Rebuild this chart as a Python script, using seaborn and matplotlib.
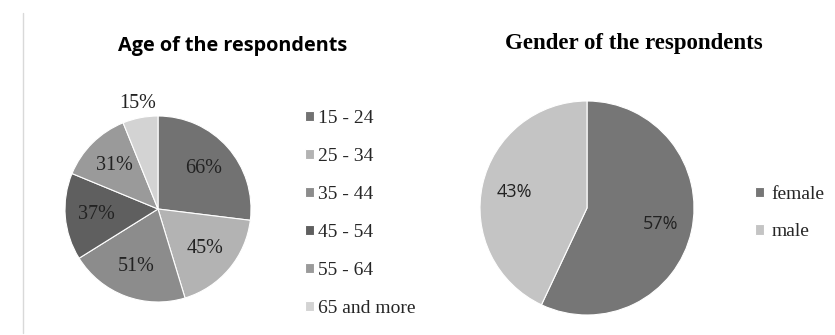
import matplotlib
matplotlib.use("Agg")
import matplotlib.pyplot as plt
from matplotlib.lines import Line2D
import seaborn as sns
import numpy as np

sns.set_theme(style="white")

age_labels = ["15 - 24", "25 - 34", "35 - 44", "45 - 54", "55 - 64", "65 and more"]
age_values = [66, 45, 51, 37, 31, 15]
age_colors = ["#727272", "#b3b3b3", "#8c8c8c", "#5f5f5f", "#9a9a9a", "#d3d3d3"]

gender_labels = ["female", "male"]
gender_values = [57, 43]
gender_colors = ["#767676", "#c4c4c4"]

W, H = 835, 335
fig = plt.figure(figsize=(W / 100, H / 100), dpi=100)


def px_axes(cx, cy, r):
    return fig.add_axes([(cx - r) / W, (H - cy - r) / H, 2 * r / W, 2 * r / H])


serif = "Liberation Serif"
sans = "Open Sans"

# ---- Age pie ----
ax1 = px_axes(158, 209, 93)
wedges1, _ = ax1.pie(age_values, colors=age_colors, startangle=90, counterclock=False,
                     wedgeprops=dict(edgecolor="white", linewidth=0.8))
ax1.set_xlim(-1, 1)
ax1.set_ylim(-1, 1)
ax1.set_aspect("equal")
for w, v in zip(wedges1, age_values):
    ang = np.deg2rad((w.theta1 + w.theta2) / 2)
    d = 1.16 if v == min(age_values) else 0.66
    ax1.text(d * np.cos(ang), d * np.sin(ang), f"{v}%", ha="center", va="center",
             fontsize=14.5, family=serif, color="#222222")
fig.text(233 / W, 1 - 46 / H, "Age of the respondents", ha="center", va="center",
         fontsize=14.3, fontweight="bold", family=sans, color="black")
fig.legend(wedges1, age_labels, loc="upper left", bbox_to_anchor=(305 / W, 1 - 110 / H),
           frameon=False, prop=dict(family=serif, size=14), handlelength=0.45,
           handleheight=0.45, handletextpad=0.2, labelspacing=1.08, borderpad=0,
           borderaxespad=0)

# ---- Gender pie ----
ax2 = px_axes(587, 208, 107)
wedges2, _ = ax2.pie(gender_values, colors=gender_colors, startangle=90, counterclock=False,
                     wedgeprops=dict(edgecolor="white", linewidth=0.8))
ax2.set_xlim(-1, 1)
ax2.set_ylim(-1, 1)
ax2.set_aspect("equal")
for w, v in zip(wedges2, gender_values):
    ang = np.deg2rad((w.theta1 + w.theta2) / 2)
    d = 0.70
    ax2.text(d * np.cos(ang), d * np.sin(ang), f"{v}%", ha="center", va="center",
             fontsize=13, family=sans, color="#222222")
fig.text(634 / W, 1 - 43 / H, "Gender of the respondents", ha="center", va="center",
         fontsize=16.5, fontweight="bold", family=serif, color="black")
fig.legend(wedges2, gender_labels, loc="upper left", bbox_to_anchor=(755 / W, 1 - 186 / H),
           frameon=False, prop=dict(family=serif, size=14), handlelength=0.45,
           handleheight=0.45, handletextpad=0.4, labelspacing=1.05, borderpad=0,
           borderaxespad=0)

# left divider line
fig.add_artist(Line2D([23 / W, 23 / W], [(H - 333) / H, (H - 13) / H],
                      transform=fig.transFigure, color="#d9d9d9", linewidth=1))

fig.savefig("out.png", dpi=100, facecolor="white")
